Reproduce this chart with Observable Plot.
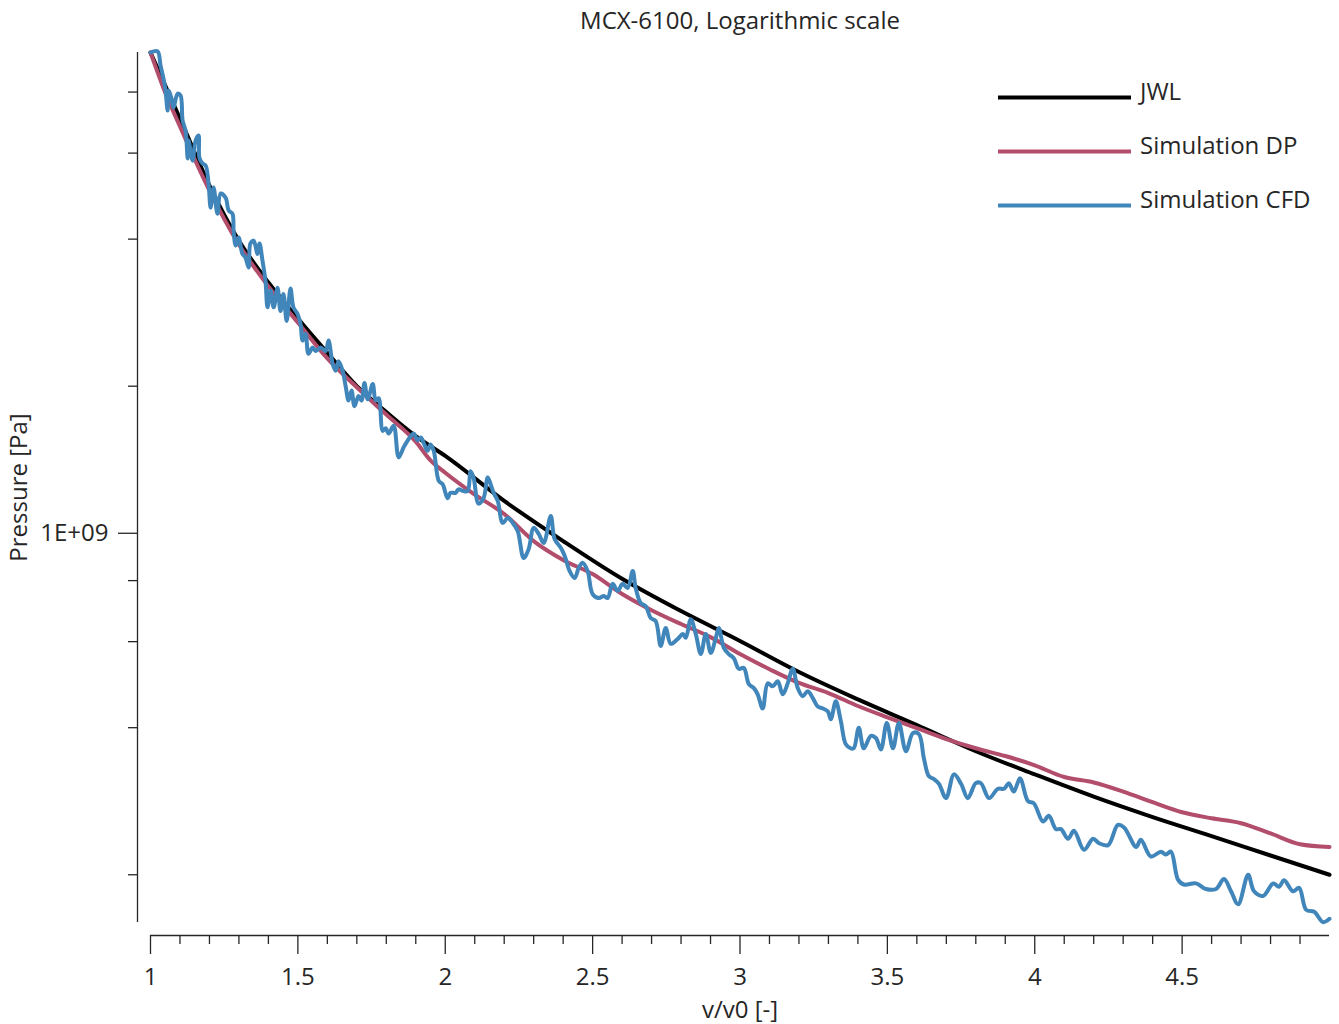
<!DOCTYPE html>
<html>
<head>
<meta charset="utf-8">
<script src="https://cdn.jsdelivr.net/npm/d3@7"></script>
<script src="https://cdn.jsdelivr.net/npm/@observablehq/plot@0.6"></script>
<style>
  html, body { margin: 0; padding: 0; background: #fff; }
  #chart svg { display: block; }
</style>
</head>
<body>
<div id="chart"></div>
<script>
// ---------- text ----------
const titleText = "MCX-6100, Logarithmic scale";
const xLabel = "v/v0 [-]";
const yLabel = "Pressure [Pa]";
const seriesNames = ["JWL", "Simulation DP", "Simulation CFD"];
const seriesColors = ["#000000", "#b24d6c", "#4186bb"];

// ---------- ticks / domains ----------
const xDomain = [1, 5];
const yDomain = [1.597e8, 9.64e9];
const xMajorTicks = [1, 1.5, 2, 2.5, 3, 3.5, 4, 4.5];
const xMinorTicks = [1.1, 1.2, 1.3, 1.4, 1.6, 1.7, 1.8, 1.9, 2.1, 2.2, 2.3, 2.4, 2.6, 2.7, 2.8, 2.9,
  3.1, 3.2, 3.3, 3.4, 3.6, 3.7, 3.8, 3.9, 4.1, 4.2, 4.3, 4.4, 4.6, 4.7, 4.8, 4.9];
const yMajorTicks = [1e9];
const yMinorTicks = [2e8, 4e8, 6e8, 8e8, 2e9, 4e9, 6e9, 8e9];

// ---------- data (pressure in units of 1e9 Pa) ----------
const jwlV = [1.0, 1.1, 1.2, 1.3, 1.4, 1.5, 1.6, 1.7, 1.8, 1.9, 2.0, 2.2, 2.4, 2.6, 2.8, 3.0, 3.2, 3.4, 3.6, 3.8, 4.0, 4.2, 4.4, 4.6, 4.8, 5.0];
const jwlP = [9.64, 7.06, 5.15, 3.97, 3.26, 2.75, 2.34, 2.00, 1.77, 1.58, 1.44, 1.165, 0.964, 0.807, 0.693, 0.602, 0.520, 0.457, 0.405, 0.358, 0.321, 0.289, 0.2625, 0.240, 0.219, 0.200];

const dpV = [1.0, 1.05, 1.1, 1.2, 1.3, 1.4, 1.5, 1.6, 1.7, 1.8, 1.9, 1.95, 2.0, 2.1, 2.2, 2.3, 2.4, 2.5, 2.6, 2.7, 2.8, 2.9, 3.0,
  3.1, 3.2, 3.3, 3.4, 3.5, 3.6, 3.7, 3.8, 3.9, 4.0, 4.1, 4.2, 4.3, 4.4, 4.5, 4.6, 4.7, 4.8, 4.9, 5.0];
const dpP = [9.64, 7.98, 6.80, 5.03, 3.90, 3.20, 2.70, 2.28, 1.99, 1.75, 1.54, 1.41, 1.33, 1.20, 1.095, 0.964, 0.882, 0.825, 0.751, 0.696, 0.652, 0.613, 0.566,
  0.527, 0.494, 0.471, 0.443, 0.420, 0.399, 0.379, 0.363, 0.350, 0.335, 0.317, 0.309, 0.296, 0.2815, 0.2685, 0.261, 0.255, 0.243, 0.231, 0.228];

const cfdV = [1.000, 1.024, 1.034, 1.044, 1.051, 1.058, 1.061, 1.071, 1.078, 1.092, 1.102, 1.109, 1.119, 1.126, 1.129, 1.143, 1.153, 1.163, 1.166, 1.177,
  1.187, 1.197, 1.204, 1.214, 1.227, 1.238, 1.255, 1.265, 1.278, 1.282, 1.289, 1.299, 1.312, 1.322, 1.333, 1.339, 1.350, 1.363, 1.370, 1.380,
  1.390, 1.397, 1.407, 1.418, 1.431, 1.441, 1.451, 1.462, 1.475, 1.485, 1.499, 1.509, 1.516, 1.526, 1.536, 1.550, 1.560, 1.577, 1.594, 1.604,
  1.618, 1.628, 1.638, 1.652, 1.662, 1.672, 1.682, 1.692, 1.706, 1.716, 1.726, 1.737, 1.754, 1.764, 1.774, 1.788, 1.798, 1.808, 1.825, 1.842,
  1.859, 1.876, 1.893, 1.906, 1.917, 1.927, 1.940, 1.950, 1.961, 1.978, 1.991, 2.008, 2.018, 2.035, 2.045, 2.062, 2.076, 2.086, 2.096, 2.113,
  2.130, 2.144, 2.154, 2.164, 2.178, 2.195, 2.212, 2.229, 2.246, 2.266, 2.283, 2.300, 2.317, 2.334, 2.358, 2.371, 2.392, 2.405, 2.422, 2.439,
  2.453, 2.466, 2.483, 2.500, 2.521, 2.538, 2.551, 2.568, 2.585, 2.602, 2.619, 2.636, 2.646, 2.663, 2.680, 2.697, 2.714, 2.731, 2.748, 2.765,
  2.789, 2.806, 2.816, 2.833, 2.850, 2.867, 2.884, 2.901, 2.918, 2.928, 2.945, 2.962, 2.979, 2.996, 3.013, 3.030, 3.047, 3.060, 3.077, 3.094,
  3.111, 3.128, 3.145, 3.162, 3.179, 3.196, 3.213, 3.230, 3.247, 3.264, 3.281, 3.298, 3.308, 3.325, 3.342, 3.359, 3.376, 3.386, 3.403, 3.420,
  3.444, 3.461, 3.478, 3.498, 3.519, 3.539, 3.563, 3.587, 3.607, 3.624, 3.641, 3.658, 3.675, 3.699, 3.726, 3.750, 3.773, 3.800, 3.817, 3.845,
  3.875, 3.896, 3.912, 3.929, 3.950, 3.977, 3.997, 4.028, 4.048, 4.072, 4.089, 4.113, 4.133, 4.167, 4.198, 4.218, 4.249, 4.282, 4.303, 4.344,
  4.360, 4.394, 4.428, 4.445, 4.462, 4.486, 4.506, 4.547, 4.581, 4.615, 4.642, 4.666, 4.690, 4.724, 4.744, 4.775, 4.809, 4.829, 4.846, 4.876,
  4.897, 4.921, 4.948, 4.978, 5.000];
const cfdP = [9.64, 9.69, 9.07, 8.53, 8.06, 7.33, 8.06, 7.76, 7.44, 7.94, 7.87, 6.99, 6.67, 5.85, 6.37, 5.79, 6.37, 6.52, 5.87, 5.71,
  5.66, 5.20, 4.64, 5.10, 4.51, 4.96, 4.86, 4.58, 4.51, 4.16, 3.88, 4.03, 3.73, 3.67, 3.50, 3.92, 3.97, 3.73, 3.92, 3.61,
  3.29, 2.90, 3.14, 2.90, 3.18, 2.85, 3.09, 2.72, 3.17, 2.90, 2.81, 2.68, 2.48, 2.56, 2.33, 2.40, 2.36, 2.40, 2.36, 2.48,
  2.22, 2.15, 2.25, 2.15, 2.00, 1.87, 1.96, 1.82, 1.91, 1.87, 2.03, 1.88, 2.02, 1.87, 1.89, 1.62, 1.64, 1.60, 1.66, 1.43,
  1.50, 1.56, 1.60, 1.55, 1.57, 1.53, 1.475, 1.52, 1.475, 1.28, 1.26, 1.18, 1.21, 1.21, 1.23, 1.22, 1.22, 1.34, 1.30, 1.15,
  1.18, 1.30, 1.26, 1.21, 1.165, 1.05, 1.075, 1.05, 1.01, 0.89, 0.928, 1.026, 0.997, 0.955, 1.085, 0.973, 0.934, 0.90, 0.837, 0.81,
  0.85, 0.87, 0.837, 0.751, 0.737, 0.744, 0.737, 0.788, 0.762, 0.788, 0.773, 0.837, 0.773, 0.72, 0.71, 0.671, 0.661, 0.588, 0.64, 0.594,
  0.608, 0.622, 0.611, 0.667, 0.622, 0.566, 0.622, 0.569, 0.611, 0.64, 0.583, 0.566, 0.555, 0.528, 0.53, 0.491, 0.482, 0.468, 0.438, 0.493,
  0.486, 0.498, 0.468, 0.493, 0.528, 0.482, 0.464, 0.475, 0.46, 0.442, 0.438, 0.432, 0.416, 0.453, 0.413, 0.37, 0.363, 0.363, 0.40, 0.363,
  0.385, 0.381, 0.361, 0.409, 0.363, 0.409, 0.358, 0.39, 0.388, 0.346, 0.318, 0.314, 0.307, 0.287, 0.321, 0.307, 0.287, 0.308, 0.308, 0.287,
  0.30, 0.30, 0.308, 0.296, 0.315, 0.283, 0.28, 0.257, 0.264, 0.248, 0.248, 0.237, 0.246, 0.225, 0.237, 0.232, 0.23, 0.253, 0.25, 0.228,
  0.236, 0.218, 0.223, 0.22, 0.223, 0.1955, 0.191, 0.192, 0.187, 0.187, 0.196, 0.185, 0.174, 0.20, 0.185, 0.181, 0.192, 0.189, 0.195, 0.185,
  0.188, 0.1695, 0.168, 0.160, 0.1625];

// ---------- build tables ----------
const UNIT = 1e9;
const toRows = (vs, ps) => vs.map((v, i) => ({v, p: ps[i] * UNIT}));
const jwl = toRows(jwlV, jwlP);
const dp = toRows(dpV, dpP);
const cfd = toRows(cfdV, cfdP);

const fmtSci = d => {
  const [m, e] = d.toExponential(0).split("e");
  const sign = e[0] === "-" ? "-" : "+";
  return m + "E" + sign + String(Math.abs(+e)).padStart(2, "0");
};

const fontFamily = '"Open Sans", "Noto Sans", "DejaVu Sans", sans-serif';
const ink = "#262626";
const FS = 24;
const LW = 4;

const plot = Plot.plot({
  width: 1339,
  height: 1024,
  marginLeft: 150,
  marginRight: 10,
  marginTop: 52,
  marginBottom: 102,
  style: {fontFamily, fontSize: FS + "px", color: ink, background: "#fff", overflow: "visible"},
  x: {domain: xDomain},
  y: {type: "log", domain: yDomain},
  marks: [
    // axis lines (offset spines)
    Plot.ruleX([xDomain[0]], {dx: -13, stroke: ink, strokeWidth: 1.3}),
    Plot.ruleY([yDomain[0]], {dy: 13, stroke: ink, strokeWidth: 1.3}),
    // y ticks
    Plot.axisY(yMinorTicks, {dx: -13, tickSize: 9, tickFormat: () => "", label: null, strokeWidth: 1.3}),
    Plot.axisY(yMajorTicks, {dx: -13, tickSize: 19, tickPadding: 10, tickFormat: fmtSci, label: null, fontSize: FS, strokeWidth: 1.3}),
    // x ticks
    Plot.axisX(xMinorTicks, {dy: 13, tickSize: 9, tickFormat: () => "", label: null, strokeWidth: 1.3}),
    Plot.axisX(xMajorTicks, {dy: 13, tickSize: 19, tickPadding: 13, tickFormat: d => String(d), label: null, fontSize: FS, strokeWidth: 1.3}),
    // series
    Plot.line(jwl, {x: "v", y: "p", stroke: seriesColors[0], strokeWidth: LW, curve: "monotone-x"}),
    Plot.line(dp, {x: "v", y: "p", stroke: seriesColors[1], strokeWidth: LW, curve: "monotone-x"}),
    Plot.line(cfd, {x: "v", y: "p", stroke: seriesColors[2], strokeWidth: LW, curve: "catmull-rom", strokeLinejoin: "round"}),
    // titles
    Plot.text([titleText], {text: d => d, frameAnchor: "top", dy: -31, fontSize: FS, lineAnchor: "middle", textAnchor: "middle", fill: ink}),
    Plot.text([xLabel], {text: d => d, frameAnchor: "bottom", dy: 88, fontSize: FS, lineAnchor: "middle", textAnchor: "middle", fill: ink}),
    Plot.text([yLabel], {text: d => d, frameAnchor: "left", dx: -131, rotate: -90, fontSize: FS, lineAnchor: "middle", textAnchor: "middle", fill: ink})
  ]
});

// ---------- legend (inside plot, top right) ----------
const svg = d3.select(plot);
const lg = svg.append("g")
  .attr("font-family", fontFamily)
  .attr("font-size", FS)
  .attr("text-anchor", "start");
seriesNames.forEach((name, i) => {
  const ly = 97.5 + i * 54;
  lg.append("line")
    .attr("x1", 998).attr("x2", 1131)
    .attr("y1", ly).attr("y2", ly)
    .attr("stroke", seriesColors[i]).attr("stroke-width", 4);
  lg.append("text")
    .attr("x", 1140).attr("y", ly - 6).attr("dy", "0.35em")
    .attr("text-anchor", "start")
    .attr("fill", ink)
    .text(name);
});

document.getElementById("chart").appendChild(plot);
</script>
</body>
</html>
